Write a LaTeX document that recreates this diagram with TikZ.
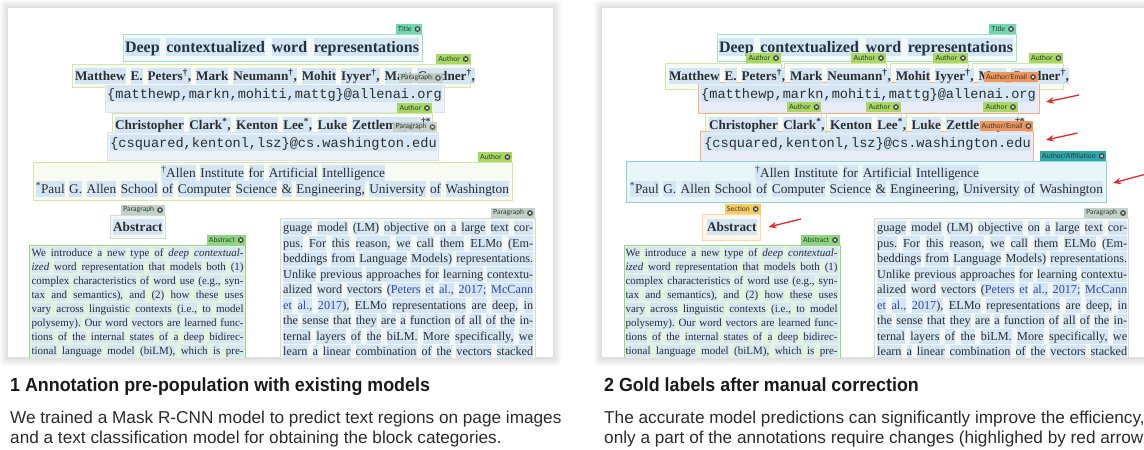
\documentclass[tikz,border=0pt]{standalone}
\usepackage{fontspec}
\setmainfont{Liberation Serif}
\setmonofont{Liberation Mono}
\newfontfamily\capfamily{Liberation Sans}
\newfontfamily\capheadfamily[FakeStretch=0.94]{Liberation Sans}
\newfontfamily\tagfamily{Lato}
\usetikzlibrary{arrows.meta}
\usetikzlibrary{scopes}

\definecolor{tokblue}{HTML}{D4E5F4}
\definecolor{pageink}{HTML}{2E2E2E}
\definecolor{titleink}{HTML}{253341}
\definecolor{citeblue}{HTML}{3346A8}
\definecolor{titleedge}{HTML}{9FE3C8}
\definecolor{titlefill}{HTML}{F1FAF6}
\definecolor{authedge}{HTML}{D2E7A4}
\definecolor{authfill}{HTML}{F6FAEC}
\definecolor{mailedge}{HTML}{DCE2E6}
\definecolor{mailfill}{HTML}{E6EFF7}
\definecolor{paraedge}{HTML}{CFDDD2}
\definecolor{parafill}{HTML}{F4F8F5}
\definecolor{absedge}{HTML}{93D78A}
\definecolor{absfill}{HTML}{E4F3DE}
\definecolor{orangeedge}{HTML}{F2B28A}
\definecolor{orangefill}{HTML}{E2E8F4}
\definecolor{affiledge}{HTML}{8FD3D8}
\definecolor{affilfill}{HTML}{E8F6F7}
\definecolor{secedge}{HTML}{FAD9A0}
\definecolor{secfill}{HTML}{FFF8EA}
\definecolor{tagteal}{HTML}{6ED8B2}
\definecolor{taggreen}{HTML}{A7D764}
\definecolor{taggray}{HTML}{C4D1C8}
\definecolor{tagabs}{HTML}{8DD57F}
\definecolor{tagorange}{HTML}{F2955A}
\definecolor{tagcyan}{HTML}{2DA8AF}
\definecolor{tagyellow}{HTML}{F8CB5E}
\definecolor{tagink}{HTML}{2F3B30}
\definecolor{iconfill}{HTML}{474747}
\definecolor{arrowred}{HTML}{E8282B}
\definecolor{capink}{HTML}{1A1A1A}
\definecolor{bodyink}{HTML}{2B2B2B}

% word tokens
\newcommand\tokstrut{\rule[-0.25em]{0pt}{1.15em}}
\newcommand\wrd[1]{{\setlength{\fboxsep}{0pt}\colorbox{tokblue}{\tokstrut#1}}}
\def\hlw#1 #2\hlstop{\wrd{#1}\if\relax\detokenize{#2}\relax\else\space\hlw#2\hlstop\fi}
\newcommand\tokline[2]{\makebox[#1pt][s]{\expandafter\hlw#2 \hlstop}}
\newcommand\cit[1]{\textcolor{citeblue}{#1}}

\tikzset{
  pagetxt/.style={inner sep=0pt, text=pageink},
  titletxt/.style={pagetxt, text=titleink, font=\fontsize{16}{19}\selectfont\bfseries},
  authtxt/.style={pagetxt, font=\fontsize{13.2}{16}\selectfont\bfseries},
  mailtxt/.style={pagetxt, font=\fontsize{13.6}{16}\selectfont\ttfamily},
  affiltxt/.style={pagetxt, font=\fontsize{13.3}{16}\selectfont},
  headtxt/.style={pagetxt, font=\fontsize{13.3}{16}\selectfont\bfseries},
  abstxt/.style={pagetxt, anchor=west, font=\fontsize{11}{14}\selectfont},
  coltxt/.style={pagetxt, anchor=west, font=\fontsize{12.2}{15}\selectfont},
  annobox/.style={line width=0.8pt},
  titlebox/.style={annobox, draw=titleedge, fill=titlefill},
  authbox/.style={annobox, draw=authedge, fill=authfill, fill opacity=0.7},
  mailbox/.style={annobox, draw=mailedge, fill=mailfill, fill opacity=0.8},
  parabox/.style={annobox, draw=paraedge, fill=parafill},
  absbox/.style={annobox, draw=absedge, fill=absfill},
  emailbox/.style={annobox, draw=orangeedge, fill=orangefill, fill opacity=0.8},
  affilbox/.style={annobox, draw=affiledge, fill=affilfill},
  secbox/.style={annobox, draw=secedge, fill=secfill},
  tagbox/.style={anchor=south east, inner xsep=2.2pt, inner ysep=0pt, minimum height=9.5pt,
    text=tagink, font=\fontsize{7}{8}\selectfont\tagfamily},
  tagicon/.style={fill=iconfill},
  tagcross/.style={draw=white, line width=0.5pt},
  redarrow/.style={->, draw=arrowred, line width=1.3pt},
  capbold/.style={anchor=base west, inner sep=0pt, text=capink, font=\fontsize{19}{22}\selectfont\capheadfamily\bfseries},
  captext/.style={anchor=base west, inner sep=0pt, text=bodyink, font=\fontsize{17.2}{20}\selectfont\capfamily}
}

% label tag with close icon: name, colour, corner, text
\newcommand\annotag[4]{%
  \node[tagbox, fill=#2] (#1) at (#3) {#4\kern8.5pt\null};
  \fill[tagicon] ([xshift=-5pt]#1.east) circle (2.9pt);
  \draw[tagcross] ([xshift=-5pt]#1.east) +(-1.2pt,-1.2pt) -- +(1.2pt,1.2pt) +(-1.2pt,1.2pt) -- +(1.2pt,-1.2pt);
}

\newcommand\pageshadow[2]{%
  \foreach \s in {1,...,8}{\fill[black, opacity=0.014, rounded corners=3pt] ({#1-\s},{8-\s}) rectangle ({#2+\s},{358+\s});}
  \fill[white] (#1,8) rectangle (#2,357);
}

% text of the page, #1 = name prefix
\newcommand\pagetext[1]{%
  \node[titletxt] (#1title) at (272,47) {\tokline{294}{Deep contextualized word representations}};
  \node[authtxt] (#1auth1) at (275,76) {\tokline{400}{Matthew E. Peters\textsuperscript{\dag}, Mark Neumann\textsuperscript{\dag}, Mohit Iyyer\textsuperscript{\dag}, Matt Gardner\textsuperscript{\dag},}};
  \node[mailtxt] (#1mail1) at (274.5,94) {\wrd{\{matthewp,markn,mohiti,mattg\}@allenai.org}};
  \node[authtxt] (#1auth2) at (273,125) {\tokline{316}{Christopher Clark\textsuperscript{*}, Kenton Lee\textsuperscript{*}, Luke Zettlemoyer\textsuperscript{\dag*}}};
  \node[mailtxt] (#1mail2) at (273.5,143) {\wrd{\{csquared,kentonl,lsz\}@cs.washington.edu}};
  \node[affiltxt] (#1affil1) at (273,173) {\tokline{224}{\textsuperscript{\dag}Allen Institute for Artificial Intelligence}};
  \node[affiltxt] (#1affil2) at (272.4,189) {\tokline{473}{\textsuperscript{*}Paul G. Allen School of Computer Science \& Engineering, University of Washington}};
  \node[headtxt] (#1abshead) at (137.8,227) {\wrd{Abstract}};
  \foreach \tline [count=\k from 0] in {%
    {We introduce a new type of \textit{deep} \textit{contextual-}},
    {\textit{ized} word representation that models both (1)},
    {complex characteristics of word use (e.g., syn-},
    {tax and semantics), and (2) how these uses},
    {vary across linguistic contexts (i.e., to model},
    {polysemy). Our word vectors are learned func-},
    {tions of the internal states of a deep bidirec-},
    {tional language model (biLM), which is pre-}}
    \node[abstxt] (#1abs\k) at (31.4,{253+14*\k}) {\tokline{212}{\tline}};
  \foreach \tline [count=\k from 0] in {%
    {guage model (LM) objective on a large text cor-},
    {pus. For this reason, we call them ELMo (Em-},
    {beddings from Language Models) representations.},
    {Unlike previous approaches for learning contextu-},
    {alized word vectors (\cit{Peters} \cit{et} \cit{al.,} \cit{2017;} \cit{McCann}},
    {\cit{et} \cit{al.,} \cit{2017}), ELMo representations are deep, in},
    {the sense that they are a function of all of the in-},
    {ternal layers of the biLM. More specifically, we},
    {learn a linear combination of the vectors stacked}}
    \node[coltxt] (#1col\k) at (283,{228+15.5*\k}) {\tokline{250}{\tline}};
}

\begin{document}
\begin{tikzpicture}[x=1pt, y=-1pt, >={Stealth[length=8pt, width=6.5pt]}]
\useasboundingbox (0,0) rectangle (1144,450);
\clip (0,0) rectangle (1144,450);

% left page: model predictions
\pageshadow{8}{553}
\begin{scope}
  \clip (8,8) rectangle (553,357);
  \draw[titlebox] (123,34) rectangle (422.5,61);
  \draw[authbox] (72.5,64) rectangle (470.7,87);
  \draw[authbox] (112.5,113) rectangle (432,137);
  \draw[authbox] (33,162) rectangle (512.5,200);
  \draw[mailbox] (105,85) rectangle (444.6,112);
  \draw[mailbox] (107,132) rectangle (438.6,160);
  \draw[parabox] (110,215) rectangle (165,238);
  \draw[absbox] (29.6,245) rectangle (245.7,370);
  \draw[parabox] (280,218) rectangle (535,370);
  \pagetext{L-}
  \annotag{L-tagtitle}{tagteal}{422.5,34}{Title}
  \annotag{L-tagauth1}{taggreen}{470.7,64}{Author}
  \annotag{L-tagauth2}{taggreen}{432,113}{Author}
  \annotag{L-tagauth3}{taggreen}{512.5,162}{Author}
  \begin{scope}[fill opacity=0.85, text opacity=1]
    \annotag{L-tagpara1}{taggray}{443,83}{Paragraph}
    \annotag{L-tagpara2}{taggray}{437.5,132}{Paragraph}
  \end{scope}
  \annotag{L-tagpara3}{taggray}{165,215}{Paragraph}
  \annotag{L-tagabs}{tagabs}{245.7,245}{Abstract}
  \annotag{L-tagpara4}{taggray}{535,218}{Paragraph}
\end{scope}

% right page: corrected labels
\pageshadow{602}{1147}
\begin{scope}
  \clip (602,8) rectangle (1147,357);
  \draw[titlebox] (717,34) rectangle (1016,61);
  \draw[authbox] (665,63) rectangle (781,89);
  \draw[authbox] (784,63) rectangle (886,89);
  \draw[authbox] (890,63) rectangle (968,89);
  \draw[authbox] (972,63) rectangle (1063.5,89);
  \draw[authbox] (705,112) rectangle (821.5,137);
  \draw[authbox] (826,112) rectangle (901,137);
  \draw[authbox] (906,112) rectangle (1018,137);
  \draw[emailbox] (698,82) rectangle (1039,113);
  \draw[emailbox] (700,131) rectangle (1033.5,162);
  \draw[affilbox] (626,161) rectangle (1106.6,202);
  \draw[secbox] (702,214) rectangle (760.7,240);
  \draw[absbox] (624,245) rectangle (840,370);
  \draw[parabox] (874.5,218) rectangle (1128,370);
  \begin{scope}[xshift=594]
    \pagetext{R-}
  \end{scope}
  \annotag{R-tagtitle}{tagteal}{1016,34}{Title}
  \annotag{R-tagauth1}{taggreen}{781,63}{Author}
  \annotag{R-tagauth2}{taggreen}{886,63}{Author}
  \annotag{R-tagauth3}{taggreen}{968,63}{Author}
  \annotag{R-tagauth4}{taggreen}{1063.5,63}{Author}
  \annotag{R-tagauth5}{taggreen}{821.5,112}{Author}
  \annotag{R-tagauth6}{taggreen}{901,112}{Author}
  \annotag{R-tagauth7}{taggreen}{1018,112}{Author}
  \annotag{R-tagmail1}{tagorange}{1038,82}{Author/Email}
  \annotag{R-tagmail2}{tagorange}{1033.5,131}{Author/Email}
  \annotag{R-tagaffil}{tagcyan}{1106.6,161}{Author/Affiliation}
  \annotag{R-tagsec}{tagyellow}{760.7,214}{Section}
  \annotag{R-tagabs}{tagabs}{840,245}{Abstract}
  \annotag{R-tagpara}{taggray}{1128,218}{Paragraph}
\end{scope}

% arrows to the changed labels
\coordinate (a1s) at (1079,95);   \coordinate (a1e) at (1046,102);
\coordinate (a2s) at (1077.6,133); \coordinate (a2e) at (1046,140);
\coordinate (a3s) at (1150,173);  \coordinate (a3e) at (1113,183);
\coordinate (a4s) at (801,219);   \coordinate (a4e) at (768.5,227);
\draw[redarrow] (a1s) -- (a1e);
\draw[redarrow] (a2s) -- (a2e);
\draw[redarrow] (a3s) -- (a3e);
\draw[redarrow] (a4s) -- (a4e);

% captions
\node[capbold] (cap1) at (10,391) {1 Annotation pre-population with existing models};
\node[captext] (txt1a) at (10,423.5) {We trained a Mask R-CNN model to predict text regions on page images};
\node[captext] (txt1b) at (10,443.5) {and a text classification model for obtaining the block categories.};
\node[capbold] (cap2) at (604,391) {2 Gold labels after manual correction};
\node[captext] (txt2a) at (604,423.5) {The accurate model predictions can significantly improve the efficiency, as};
\node[captext] (txt2b) at (604,443.5) {only a part of the annotations require changes (highlighed by red arrows).};
\end{tikzpicture}
\end{document}
